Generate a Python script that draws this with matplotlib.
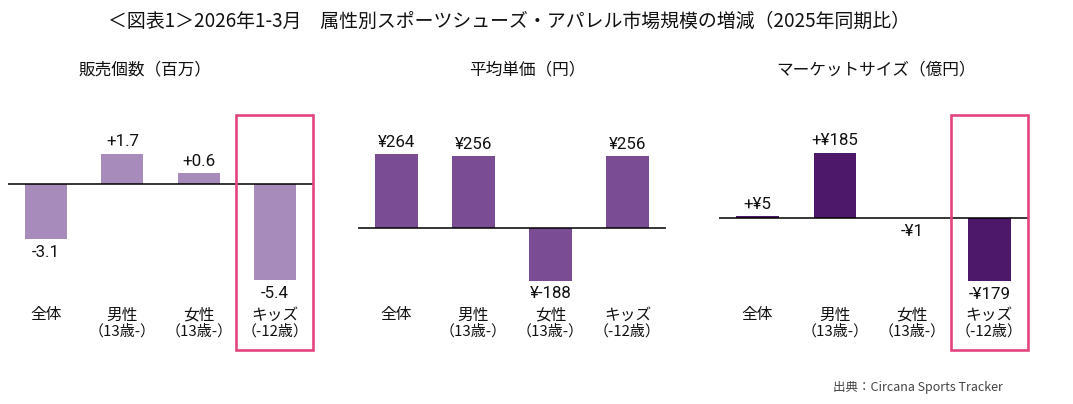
import matplotlib
matplotlib.use("Agg")
import matplotlib.pyplot as plt
from matplotlib.patches import Rectangle
from matplotlib import transforms

# ---- data ----
categories_line1 = ["全体", "男性", "女性", "キッズ"]
categories_line2 = ["", "（13歳-）", "（13歳-）", "（-12歳）"]
units_values = [-3.1, 1.7, 0.6, -5.4]
units_labels = ["-3.1", "+1.7", "+0.6", "-5.4"]
price_values = [264, 256, -188, 256]
price_labels = ["¥264", "¥256", "¥-188", "¥256"]
market_values = [5, 185, -1, -179]
market_labels = ["+¥5", "+¥185", "-¥1", "-¥179"]

title = "＜図表1＞2026年1-3月　属性別スポーツシューズ・アパレル市場規模の増減（2025年同期比）"
subtitles = ["販売個数（百万）", "平均単価（円）", "マーケットサイズ（億円）"]
source = "出典：Circana Sports Tracker"
highlight_index = 3

W, H = 1073, 404
fig = plt.figure(figsize=(W / 100, H / 100), dpi=100)
fig.patch.set_facecolor("white")

CJK = ["Noto Sans CJK JP", "DejaVu Sans"]
NUM = ["Roboto", "Noto Sans CJK JP", "DejaVu Sans"]

def fx(px):
    return px / W

def fy(py):
    return 1 - py / H

ax_top, ax_bot = 100, 300
panels = [
    dict(values=units_values, labels=units_labels, left=8, right=313, base=184, scale=17.8,
         color="#A78BBA", sub_x=145, box=True),
    dict(values=price_values, labels=price_labels, left=358, right=666, base=228, scale=0.28,
         color="#7A4C94", sub_x=527, box=False),
    dict(values=market_values, labels=market_labels, left=719, right=1028, base=218, scale=0.352,
         color="#4D1869", sub_x=876, box=True),
]

for i, p in enumerate(panels):
    ax = fig.add_axes([fx(p["left"]), fy(ax_bot), fx(p["right"] - p["left"]), (ax_bot - ax_top) / H])
    ax.axis("off")
    ymax = (p["base"] - ax_top) / p["scale"]
    ymin = -(ax_bot - p["base"]) / p["scale"]
    ax.set_xlim(-0.5, 3.5)
    ax.set_ylim(ymin, ymax)
    xs = list(range(len(p["values"])))
    ax.bar(xs, p["values"], width=0.55, color=p["color"], zorder=2)
    ax.axhline(0, color="black", lw=1.1, zorder=3)
    for x, v, lab in zip(xs, p["values"], p["labels"]):
        off = 12 if v >= 0 else -13
        ax.annotate(lab, (x, v), xytext=(0, off * 0.72), textcoords="offset points",
                    ha="center", va="center", fontsize=12.2, family=NUM, color="#111111")
    tr = transforms.blended_transform_factory(ax.transData, fig.transFigure)
    for x, l1, l2 in zip(xs, categories_line1, categories_line2):
        ax.text(x, fy(315), l1, transform=tr, ha="center", va="center", fontsize=11.3,
                family=CJK, color="#111111")
        if l2:
            ax.text(x, fy(331), l2, transform=tr, ha="center", va="center", fontsize=10.8,
                    family=CJK, color="#111111")
    fig.text(fx(p["sub_x"]), fy(70), subtitles[i], ha="center", va="center", fontsize=12,
             family=CJK, color="#111111")
    if p["box"]:
        spacing = (p["right"] - p["left"]) / 4
        cx = p["left"] + spacing * (highlight_index + 0.5)
        x0, x1 = cx - 38.5, cx + 38.5
        rect = Rectangle((fx(x0), fy(350)), fx(x1 - x0), (350 - 115) / H, transform=fig.transFigure,
                         fill=False, edgecolor="#E2457E", lw=1.9)
        fig.patches.append(rect)

fig.text(fx(509), fy(21), title, ha="center", va="center", fontsize=13.6, family=CJK, color="#111111")
fig.text(fx(833), fy(387), source, ha="left", va="center", fontsize=9, family=CJK, color="#444444")

fig.savefig("out.png", dpi=100)
